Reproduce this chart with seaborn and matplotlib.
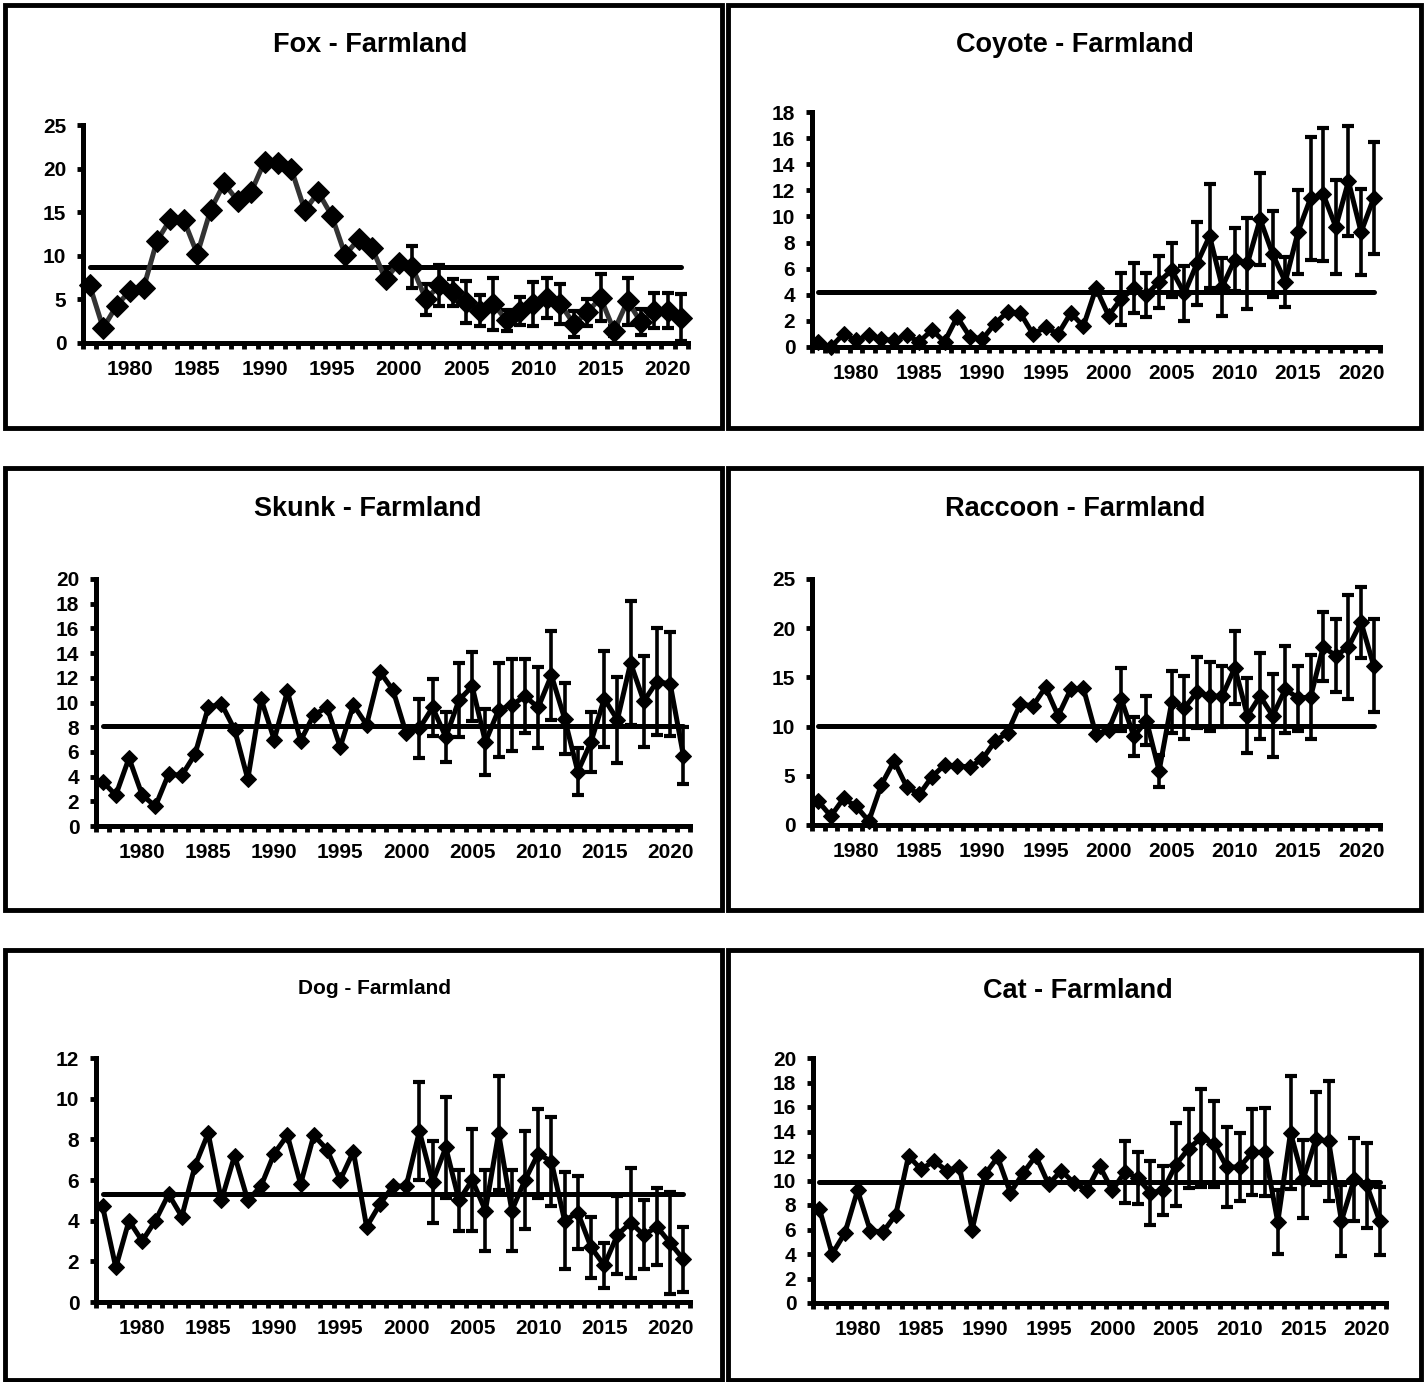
import matplotlib
matplotlib.use("Agg")
import matplotlib.pyplot as plt
from matplotlib.patches import Rectangle
import numpy as np
import pandas as pd
import seaborn as sns

# стиль
sns.set_theme(style="white")
plt.rcParams["font.family"] = ["Liberation Sans", "DejaVu Sans"]
plt.rcParams["font.weight"] = "bold"
plt.rcParams["text.color"] = "black"
plt.rcParams["xtick.color"] = "black"
plt.rcParams["ytick.color"] = "black"

# данные
years = list(range(1977, 2022))
err_years = list(range(2001, 2022))

fox = [6.6, 1.7, 4.3, 6.0, 6.3, 11.7, 14.2, 14.1, 10.2, 15.3,
       18.3, 16.3, 17.3, 20.8, 20.6, 19.9, 15.2, 17.3, 14.6, 10.1,
       11.9, 10.9, 7.3, 9.2, 8.7, 5.0, 6.6, 5.8, 4.7, 3.7,
       4.5, 2.6, 3.7, 4.5, 5.2, 4.5, 2.2, 3.5, 5.2, 1.4,
       4.8, 2.4, 3.7, 3.7, 2.9]
fox_err = [2.4, 1.8, 2.4, 1.5, 2.4, 1.8, 3.0, 1.2, 1.6, 2.5, 2.3,
           2.3, 1.5, 1.6, 2.7, 0.6, 2.7, 1.5, 2.0, 2.0, 2.7]
fox_avg = 8.7

coyote = [0.4, 0.0, 1.0, 0.5, 0.9, 0.6, 0.5, 0.9, 0.4, 1.3,
          0.4, 2.3, 0.8, 0.6, 1.8, 2.7, 2.6, 1.0, 1.5, 1.0,
          2.6, 1.6, 4.5, 2.4, 3.7, 4.5, 4.0, 5.0, 5.9, 4.1,
          6.4, 8.5, 4.6, 6.7, 6.4, 9.8, 7.1, 5.0, 8.8, 11.4,
          11.7, 9.2, 12.7, 8.8, 11.4]
coyote_err = [2.0, 1.9, 1.7, 2.0, 2.1, 2.1, 3.2, 4.0, 2.2, 2.4, 3.5,
              3.5, 3.3, 1.9, 3.2, 4.7, 5.1, 3.6, 4.2, 3.3, 4.3]
coyote_avg = 4.2

skunk = [3.6, 2.5, 5.5, 2.5, 1.6, 4.2, 4.1, 5.8, 9.6, 9.9,
         7.8, 3.8, 10.3, 7.0, 10.9, 6.9, 9.0, 9.6, 6.4, 9.8,
         8.2, 12.5, 11.0, 7.5, 7.9, 9.6, 7.2, 10.2, 11.3, 6.8,
         9.4, 9.8, 10.5, 9.6, 12.2, 8.7, 4.4, 6.8, 10.3, 8.6,
         13.2, 10.1, 11.7, 11.5, 5.7]
skunk_err = [2.4, 2.3, 2.0, 3.0, 2.8, 2.7, 3.8, 3.7, 3.0, 3.3, 3.6,
             2.9, 1.9, 2.4, 3.9, 3.5, 5.0, 3.7, 4.3, 4.2, 2.3]
skunk_avg = 8.1

raccoon = [2.4, 0.9, 2.7, 1.9, 0.4, 4.1, 6.5, 3.9, 3.1, 4.9,
           6.1, 6.0, 5.9, 6.7, 8.5, 9.4, 12.3, 12.1, 14.0, 11.1,
           13.8, 13.9, 9.2, 9.7, 12.8, 9.0, 10.6, 5.5, 12.5, 11.9,
           13.5, 13.1, 13.1, 16.0, 11.1, 13.1, 11.1, 13.8, 12.9, 13.0,
           18.1, 17.2, 18.1, 20.6, 16.2]
raccoon_err = [3.2, 2.0, 2.5, 1.6, 3.2, 3.2, 3.6, 3.5, 3.1, 3.7, 3.8,
               4.4, 4.2, 4.4, 3.3, 4.3, 3.5, 3.7, 5.3, 3.6, 4.7]
raccoon_avg = 10.1

dog = [4.7, 1.7, 4.0, 3.0, 4.0, 5.3, 4.2, 6.7, 8.3, 5.0,
       7.2, 5.0, 5.7, 7.3, 8.2, 5.8, 8.2, 7.5, 6.0, 7.4,
       3.7, 4.8, 5.7, 5.7, 8.4, 5.9, 7.6, 5.0, 6.0, 4.5,
       8.3, 4.5, 6.0, 7.3, 6.9, 4.0, 4.4, 2.7, 1.8, 3.3,
       3.9, 3.3, 3.7, 2.9, 2.1]
dog_err = [2.4, 2.0, 2.5, 1.5, 2.5, 2.0, 2.8, 2.0, 2.4, 2.2, 2.2,
           2.4, 1.8, 1.5, 1.1, 1.9, 2.7, 1.7, 1.9, 2.5, 1.6]
dog_avg = 5.3

cat = [7.7, 4.0, 5.7, 9.2, 5.9, 5.8, 7.2, 12.0, 10.9, 11.6,
       10.8, 11.1, 6.0, 10.5, 11.9, 9.0, 10.6, 12.0, 9.7, 10.8,
       9.8, 9.2, 11.2, 9.2, 10.7, 10.2, 9.0, 9.2, 11.3, 12.6,
       13.5, 13.0, 11.1, 11.1, 12.3, 12.3, 6.6, 13.9, 10.1, 13.4,
       13.2, 6.7, 10.1, 9.6, 6.7]
cat_err = [2.5, 2.1, 2.6, 2.0, 3.4, 3.2, 4.0, 3.5, 3.3, 2.8, 3.5,
           3.6, 2.6, 4.6, 3.2, 3.8, 4.9, 2.9, 3.4, 3.5, 2.8]
cat_avg = 9.9

W, H = 1426, 1382
fig = plt.figure(figsize=(W / 100, H / 100), dpi=100)

# (заголовок, значения, ошибки, среднее, ymax, шаг, оси px, заголовок px, размер, цвет линии, маркер)
panels = [
    ("Fox - Farmland", fox, fox_err, fox_avg, 25, 5, (83, 125, 688, 343), (370, 45), 19.5, "#333333", 11),
    ("Coyote - Farmland", coyote, coyote_err, coyote_avg, 18, 2, (812, 112, 1380, 347), (1075, 45), 19.5, "black", 8),
    ("Skunk - Farmland", skunk, skunk_err, skunk_avg, 20, 2, (96, 579, 690, 826), (368, 509), 19.5, "black", 8),
    ("Raccoon - Farmland", raccoon, raccoon_err, raccoon_avg, 25, 5, (812, 579, 1380, 825), (1075, 509), 19.5, "black", 8),
    ("Dog - Farmland", dog, dog_err, dog_avg, 12, 2, (96, 1058, 690, 1302), (375, 988), 15, "black", 8),
    ("Cat - Farmland", cat, cat_err, cat_avg, 20, 2, (813, 1058, 1386, 1303), (1078, 991), 19.5, "black", 8),
]

for title, vals, err, avg, ymax, step, (l, t, r, b), (tx, ty), tsize, lc, ms in panels:
    ax = fig.add_axes([l / W, 1 - b / H, (r - l) / W, (b - t) / H])
    df = pd.DataFrame({"year": years, "value": vals})

    # среднее
    sns.lineplot(x=years, y=[avg] * len(years), ax=ax, color="black", lw=3.6, zorder=1)
    # ошибки
    ax.errorbar(err_years, vals[-len(err):], yerr=err, fmt="none", ecolor="black",
                elinewidth=2.6, capsize=4, capthick=3, zorder=2)
    # ряд
    sns.lineplot(data=df, x="year", y="value", ax=ax, color=lc, lw=3.6, marker="D",
                 markersize=ms, markerfacecolor="black", markeredgecolor="black",
                 clip_on=False, zorder=3)

    ax.set_xlim(1976.5, 2021.5)
    ax.set_ylim(0, ymax)
    ax.set_yticks(np.arange(0, ymax + 0.1, step))
    ax.set_xticks(range(1980, 2021, 5))
    ax.set_xticks(np.arange(1976.5, 2022, 1), minor=True)
    ax.set_xlabel("")
    ax.set_ylabel("")

    for s in ["top", "right"]:
        ax.spines[s].set_visible(False)
    for s in ["left", "bottom"]:
        ax.spines[s].set_linewidth(3.6)
        ax.spines[s].set_color("black")

    ax.tick_params(axis="y", which="major", left=True, direction="out", length=4,
                   width=3.5, color="black", labelcolor="black", labelsize=15, pad=8)
    ax.tick_params(axis="x", which="major", bottom=True, length=0, labelsize=15,
                   labelcolor="black", pad=12)
    ax.tick_params(axis="x", which="minor", bottom=True, direction="out", length=4,
                   width=3.5, color="black")
    for lab in ax.get_xticklabels() + ax.get_yticklabels():
        lab.set_fontweight("bold")

    fig.text(tx / W, 1 - ty / H, title, ha="center", va="center",
             fontsize=tsize, fontweight="bold", color="black")

# рамки
boxes = [(5, 5, 722, 428), (728, 5, 1421, 428),
         (5, 468, 722, 910), (728, 468, 1421, 910),
         (5, 950, 722, 1380), (728, 950, 1421, 1380)]
for x0, y0, x1, y1 in boxes:
    fig.add_artist(Rectangle((x0 / W, 1 - y1 / H), (x1 - x0) / W, (y1 - y0) / H,
                             transform=fig.transFigure, fill=False, lw=3.5, ec="black"))

plt.savefig("out.png", dpi=100)
